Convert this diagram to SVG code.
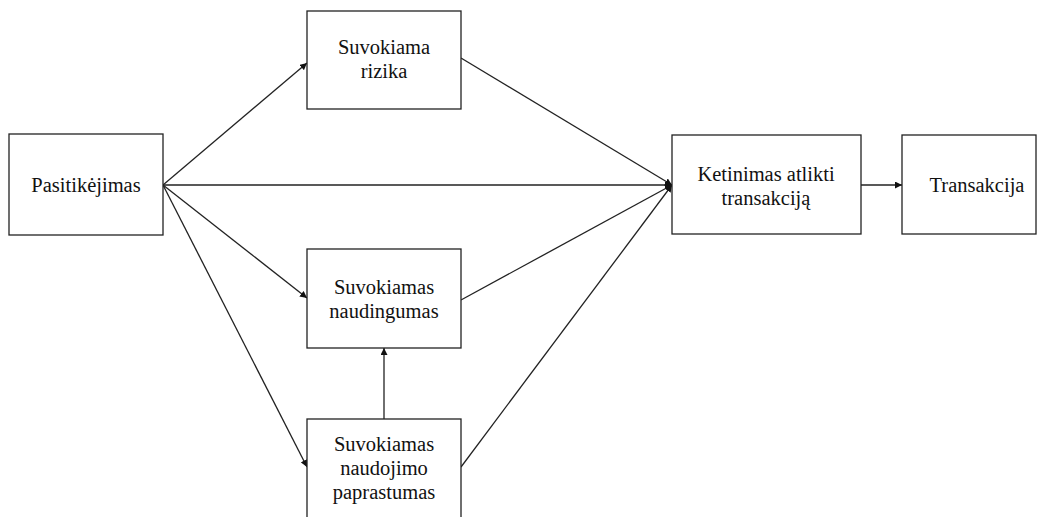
<svg xmlns="http://www.w3.org/2000/svg" width="1046" height="517" viewBox="0 0 1046 517">
<style>
.box{fill:#fff;stroke:#222;stroke-width:1.3}
.t{font-family:"Liberation Serif","Times New Roman",serif;font-size:20.5px;fill:#111;text-anchor:middle}
.c{stroke:#222;stroke-width:1.3;fill:none}
</style>
<defs>
<marker id="ah" viewBox="0 0 10 10" refX="10" refY="5" markerWidth="7" markerHeight="7" markerUnits="userSpaceOnUse" orient="auto">
<path d="M0,0 L10,5 L0,10 z" fill="#111"/>
</marker>
</defs>
<rect width="1046" height="517" fill="#fff"/>
<g id="connectors">
<line class="c" x1="163" y1="185" x2="307" y2="63" marker-end="url(#ah)"/>
<line class="c" x1="163" y1="185" x2="672" y2="185" marker-end="url(#ah)"/>
<line class="c" x1="163" y1="185" x2="307" y2="298" marker-end="url(#ah)"/>
<line class="c" x1="163" y1="185" x2="307" y2="467" marker-end="url(#ah)"/>
<line class="c" x1="461" y1="58" x2="672" y2="185" marker-end="url(#ah)"/>
<line class="c" x1="461" y1="300" x2="672" y2="185" marker-end="url(#ah)"/>
<line class="c" x1="461" y1="467" x2="672" y2="185" marker-end="url(#ah)"/>
<line class="c" x1="384" y1="419" x2="384" y2="348" marker-end="url(#ah)"/>
<line class="c" x1="861" y1="185" x2="902" y2="185" marker-end="url(#ah)"/>
</g>
<g id="pasitikejimas">
<rect class="box" x="9" y="134" width="154" height="101"/>
<text class="t" x="86" y="192">Pasitikėjimas</text>
</g>
<g id="rizika">
<rect class="box" x="307" y="11" width="154" height="98"/>
<text class="t" x="384" y="54">Suvokiama</text>
<text class="t" x="384" y="78">rizika</text>
</g>
<g id="naudingumas">
<rect class="box" x="307" y="249" width="154" height="99"/>
<text class="t" x="384" y="294">Suvokiamas</text>
<text class="t" x="384" y="318">naudingumas</text>
</g>
<g id="paprastumas">
<rect class="box" x="307" y="419" width="154" height="102"/>
<text class="t" x="384" y="451">Suvokiamas</text>
<text class="t" x="384" y="475">naudojimo</text>
<text class="t" x="384" y="499">paprastumas</text>
</g>
<g id="ketinimas">
<rect class="box" x="672" y="135" width="189" height="99"/>
<text class="t" x="766" y="181">Ketinimas atlikti</text>
<text class="t" x="766" y="205">transakciją</text>
</g>
<g id="transakcija">
<rect class="box" x="902" y="135" width="134" height="99"/>
<text class="t" x="977" y="192">Transakcija</text>
</g>
</svg>
